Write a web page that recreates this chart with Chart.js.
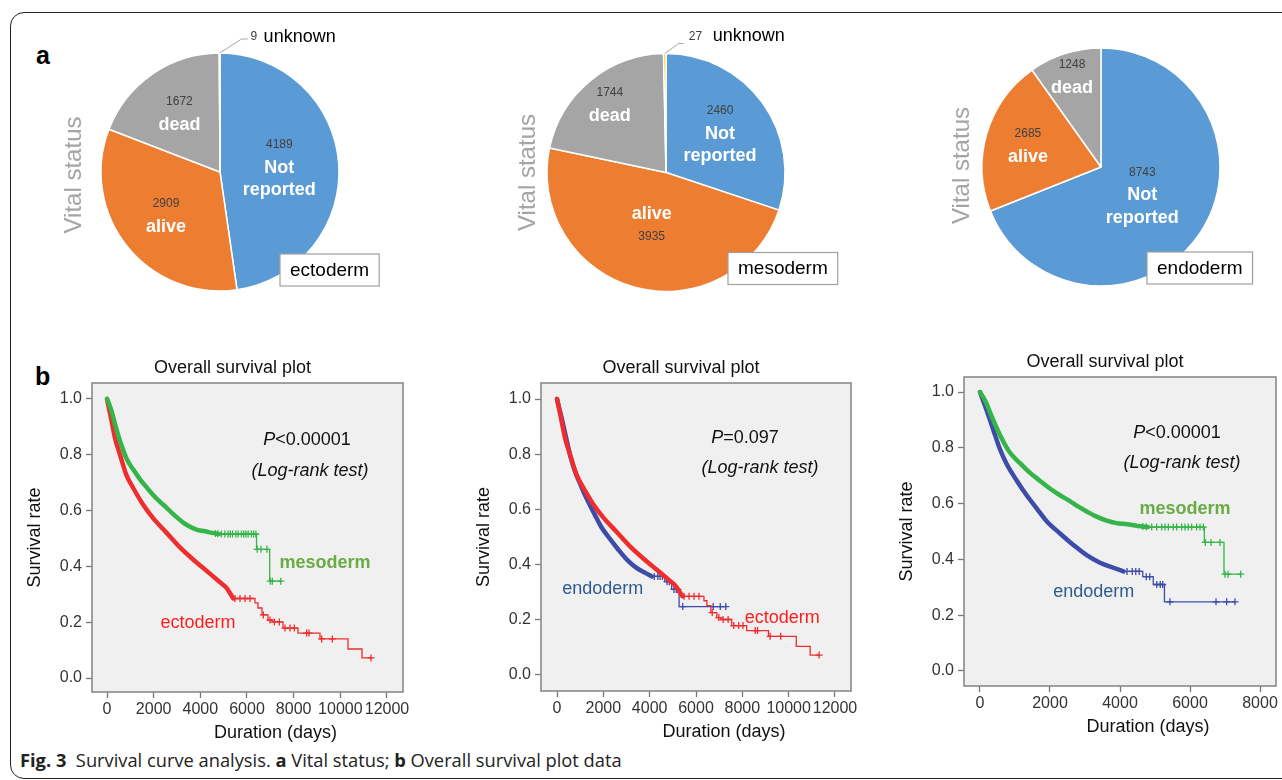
<!DOCTYPE html>
<html><head><meta charset="utf-8">
<script src="https://cdn.jsdelivr.net/npm/chart.js@4.4.1/dist/chart.umd.min.js"></script>
<style>
html,body{margin:0;padding:0;background:#fff;width:1282px;height:780px;overflow:hidden;}
#frame{position:absolute;left:10px;top:12px;width:1300px;height:767px;border:1.3px solid #222;border-radius:14px;box-sizing:border-box;}
canvas{position:absolute;}
.letter{position:absolute;font:bold 25px "Liberation Sans",Arial,sans-serif;color:#000;line-height:1;}
#caption{position:absolute;left:20px;top:751px;font:18.3px "Open Sans","Roboto",sans-serif;color:#222;white-space:nowrap;line-height:1;}
</style></head><body>
<div id="frame"></div>
<div class="letter" style="left:36px;top:43px;">a</div>
<div class="letter" style="left:35px;top:364px;">b</div>
<canvas id="pie1" width="400" height="304" style="left:20px;top:20px"></canvas>
<canvas id="pie2" width="440" height="305" style="left:445.7px;top:20px"></canvas>
<canvas id="pie3" width="360" height="294" style="left:921px;top:20px"></canvas>
<canvas id="s1"></canvas>
<canvas id="s2"></canvas>
<canvas id="s3"></canvas>
<div id="caption"><b>Fig. 3</b>&nbsp; Survival curve analysis. <b>a</b> Vital status; <b>b</b> Overall survival plot data</div>
<script>
// ---------------- DATA ----------------
const pieCategories = ['Not reported', 'alive', 'dead', 'unknown'];
const ectodermCounts = [4189, 2909, 1672, 9];
const mesodermCounts = [2460, 3935, 1744, 27];
const endodermCounts = [8743, 2685, 1248];

const yTickValues = [0, 0.2, 0.4, 0.6, 0.8, 1.0];
const xTickValuesLong = [0, 2000, 4000, 6000, 8000, 10000, 12000];
const xTickValuesShort = [0, 2000, 4000, 6000, 8000];

// ectoderm Kaplan-Meier curve
const ectoDenseDays = [0, 150, 343, 557, 843, 1129, 1557, 1986, 2557, 3129, 3700, 4271, 4843, 5129, 5300, 5414];
const ectoDenseSurv = [1.0, 0.94, 0.86, 0.80, 0.725, 0.68, 0.62, 0.572, 0.52, 0.468, 0.424, 0.384, 0.343, 0.322, 0.30, 0.285];
const ectoStepDays = [5414, 6343, 6471, 6643, 6900, 7071, 7543, 8186, 9129, 10329, 10929, 11344];
const ectoStepSurv = [0.285, 0.269, 0.251, 0.226, 0.208, 0.201, 0.179, 0.161, 0.140, 0.104, 0.072, 0.072];
const ectoCensorDays = [5486, 5700, 5914, 6129, 6700, 6986, 7171, 7386, 7629, 7843, 8029, 8557, 8657, 9200, 9657, 11314];
const ectoCensorSurv = [0.285, 0.285, 0.285, 0.285, 0.226, 0.208, 0.201, 0.201, 0.179, 0.179, 0.179, 0.161, 0.161, 0.140, 0.140, 0.072];

// mesoderm Kaplan-Meier curve
const mesoDenseDays = [0, 100, 200, 343, 557, 843, 1143, 1414, 1700, 1986, 2286, 2557, 2800, 3048, 3300, 3600, 3900, 4200, 4500, 4800];
const mesoDenseSurv = [1.0, 0.98, 0.955, 0.91, 0.85, 0.785, 0.745, 0.712, 0.683, 0.655, 0.63, 0.61, 0.59, 0.572, 0.555, 0.54, 0.53, 0.526, 0.52, 0.516];
const mesoStepDays = [4800, 6409, 6971, 7476];
const mesoStepSurv = [0.516, 0.461, 0.347, 0.347];
const mesoCensorDays = [4650, 4750, 4905, 5048, 5190, 5286, 5381, 5524, 5619, 5762, 5857, 5952, 6048, 6190, 6286, 6381, 6438, 6600, 6857, 7000, 7086, 7448];
const mesoCensorSurv = [0.518, 0.517, 0.516, 0.516, 0.516, 0.516, 0.516, 0.516, 0.516, 0.516, 0.516, 0.516, 0.516, 0.516, 0.516, 0.516, 0.461, 0.461, 0.461, 0.347, 0.347, 0.347];

// endoderm Kaplan-Meier curve
const endoDenseDays = [0, 100, 190, 381, 571, 762, 1048, 1333, 1619, 1905, 2286, 2667, 3048, 3429, 3810, 4100];
const endoDenseSurv = [1.0, 0.965, 0.935, 0.864, 0.795, 0.742, 0.683, 0.63, 0.583, 0.537, 0.493, 0.452, 0.415, 0.388, 0.370, 0.357];
const endoStepDays = [4100, 4650, 4950, 5270, 7290];
const endoStepSurv = [0.357, 0.338, 0.310, 0.248, 0.248];
const endoCensorDays = [4200, 4350, 4450, 4550, 4750, 4850, 5050, 5150, 5220, 5428, 6743, 7048, 7286];
const endoCensorSurv = [0.357, 0.357, 0.357, 0.357, 0.338, 0.338, 0.310, 0.310, 0.310, 0.248, 0.248, 0.248, 0.248];

// ---------------- STYLE ----------------
const SANS = '"Liberation Sans", Arial, sans-serif';
const pieColors = ['#5B9BD5', '#ED7D31', '#A5A5A5', '#FFC000'];
const pieNameLines = [['Not', 'reported'], ['alive'], ['dead'], ['unknown']];
const curveColors = {ecto: '#EE2E2E', meso: '#35B549', endo: '#3D4CA8'};
const labelColors = {ecto: '#FF1E1E', meso: '#69AC45', endo: '#2F5A90'};
const curves = {
  ecto: {dx: ectoDenseDays, dy: ectoDenseSurv, sx: ectoStepDays, sy: ectoStepSurv, cx: ectoCensorDays, cy: ectoCensorSurv},
  meso: {dx: mesoDenseDays, dy: mesoDenseSurv, sx: mesoStepDays, sy: mesoStepSurv, cx: mesoCensorDays, cy: mesoCensorSurv},
  endo: {dx: endoDenseDays, dy: endoDenseSurv, sx: endoStepDays, sy: endoStepSurv, cx: endoCensorDays, cy: endoCensorSurv}
};
const zip = (xs, ys) => xs.map((x, i) => ({x, y: ys[i]}));

// ---------------- PIE PLUGIN ----------------
const pieText = {
  id: 'pieText',
  afterDatasetsDraw(chart, args, o) {
    const ctx = chart.ctx;
    const meta = chart.getDatasetMeta(0);
    const values = chart.data.datasets[0].data;
    let cx0 = 0, cy0 = 0;
    meta.data.forEach((arc, i) => {
      const p = arc.getProps(['x', 'y', 'startAngle', 'endAngle', 'outerRadius'], true);
      cx0 = p.x; cy0 = p.y;
      const mid = (p.startAngle + p.endAngle) / 2;
      if (i < 3) {
        const r = p.outerRadius * o.labelRadius[i];
        const lx = p.x + Math.cos(mid) * r, ly = p.y + Math.sin(mid) * r;
        const items = [];
        const names = pieNameLines[i].map(t => ({t, kind: 'name'}));
        const num = {t: String(values[i]), kind: 'num'};
        if (o.numberBelow[i]) items.push(...names, num); else items.push(num, ...names);
        let y = 0; const ys = [];
        items.forEach((it, k) => {
          if (k > 0) y += (it.kind === 'num' || items[k - 1].kind === 'num') ? 23 : 22.5;
          ys.push(y);
        });
        const off = (ys[0] + ys[ys.length - 1]) / 2;
        ctx.save();
        ctx.textAlign = 'center'; ctx.textBaseline = 'middle';
        items.forEach((it, k) => {
          if (it.kind === 'num') { ctx.font = '12px ' + SANS; ctx.fillStyle = '#404040'; }
          else { ctx.font = 'bold 18px ' + SANS; ctx.fillStyle = '#ffffff'; }
          ctx.fillText(it.t, lx, ly + ys[k] - off);
        });
        ctx.restore();
      } else if (o.unknown) {
        const u = o.unknown;
        const ex = p.x + Math.cos(mid) * p.outerRadius, ey = p.y + Math.sin(mid) * p.outerRadius;
        ctx.save();
        ctx.strokeStyle = '#A6A6A6'; ctx.lineWidth = 1;
        ctx.beginPath(); ctx.moveTo(ex, ey); ctx.lineTo(ex + u.dx1, ey + u.dy1); ctx.lineTo(ex + u.dx2, ey + u.dy1); ctx.stroke();
        ctx.textBaseline = 'middle'; ctx.textAlign = 'left';
        ctx.font = '12px ' + SANS; ctx.fillStyle = '#404040';
        ctx.fillText(String(values[i]), ex + u.numDx, ey + u.textDy);
        ctx.font = '18px ' + SANS; ctx.fillStyle = '#000';
        ctx.fillText(pieCategories[i], ex + u.nameDx, ey + u.textDy);
        ctx.restore();
      }
    });
    ctx.save();
    ctx.translate(cx0 + o.vsDx, cy0 + o.vsDy);
    ctx.rotate(-Math.PI / 2);
    ctx.font = '24px ' + SANS; ctx.fillStyle = '#A5A5A5';
    ctx.textAlign = 'center'; ctx.textBaseline = 'middle';
    ctx.fillText('Vital status', 0, 0);
    ctx.restore();
    ctx.save();
    ctx.font = '19px ' + SANS;
    const w = ctx.measureText(o.tissue).width + 20;
    const bx = cx0 + o.boxDx, by = cy0 + o.boxDy;
    ctx.fillStyle = '#fff'; ctx.fillRect(bx, by, w, 32);
    ctx.strokeStyle = '#A0A0A0'; ctx.lineWidth = 1.2; ctx.strokeRect(bx, by, w, 32);
    ctx.fillStyle = '#000'; ctx.textAlign = 'center'; ctx.textBaseline = 'middle';
    ctx.fillText(o.tissue, bx + w / 2, by + 16.5);
    ctx.restore();
  }
};

function makePie(id, counts, opts) {
  new Chart(document.getElementById(id), {
    type: 'pie',
    data: {
      labels: pieCategories.slice(0, counts.length),
      datasets: [{data: counts, backgroundColor: pieColors.slice(0, counts.length), borderColor: '#ffffff', borderWidth: 1.5}]
    },
    options: {
      responsive: false, animation: false, radius: 119,
      layout: {padding: 0},
      plugins: {legend: {display: false}, tooltip: {enabled: false}, pieText: opts}
    },
    plugins: [pieText]
  });
}

makePie('pie1', ectodermCounts, {tissue: 'ectoderm', labelRadius: [0.5, 0.58, 0.6], numberBelow: [false, false, false],
  boxDx: 60, boxDy: 82, vsDx: -146, vsDy: 3,
  unknown: {dx1: 22, dy1: -14, dx2: 28, numDx: 31, nameDx: 44, textDy: -16}});
makePie('pie2', mesodermCounts, {tissue: 'mesoderm', labelRadius: [0.56, 0.46, 0.74], numberBelow: [false, true, false],
  boxDx: 62, boxDy: 80, vsDx: -138, vsDy: 0,
  unknown: {dx1: 14, dy1: -10, dx2: 19, numDx: 24, nameDx: 48, textDy: -17}});
makePie('pie3', endodermCounts, {tissue: 'endoderm', labelRadius: [0.42, 0.64, 0.8], numberBelow: [false, false, false],
  boxDx: 46, boxDy: 85, vsDx: -139, vsDy: -1.5, unknown: null});

// ---------------- SURVIVAL PLUGIN ----------------
const survDecor = {
  id: 'survDecor',
  beforeDatasetsDraw(chart) {
    const {ctx, chartArea: a} = chart;
    ctx.save(); ctx.fillStyle = '#F0F0F0'; ctx.fillRect(a.left, a.top, a.right - a.left, a.bottom - a.top); ctx.restore();
  },
  afterDraw(chart, args, o) {
    const {ctx, chartArea: a, scales} = chart;
    ctx.save();
    ctx.strokeStyle = '#8A8A8A'; ctx.lineWidth = 1.6;
    ctx.strokeRect(a.left, a.top, a.right - a.left, a.bottom - a.top);
    const cxm = (a.left + a.right) / 2;
    ctx.fillStyle = '#111'; ctx.textAlign = 'center'; ctx.textBaseline = 'middle';
    ctx.font = '18px ' + SANS;
    ctx.fillText('Overall survival plot', cxm - 15, a.top - 15);
    ctx.fillText('Duration (days)', cxm + 28, a.bottom + 41);
    o.texts.forEach(t => {
      const px = scales.x.getPixelForValue(t.x), py = scales.y.getPixelForValue(t.y);
      ctx.fillStyle = t.color || '#111';
      if (t.lead) {
        ctx.font = 'italic 18px ' + SANS; const w1 = ctx.measureText(t.lead).width;
        ctx.font = '18px ' + SANS; const w2 = ctx.measureText(t.text).width;
        const x0 = px - (w1 + w2) / 2;
        ctx.textAlign = 'left';
        ctx.font = 'italic 18px ' + SANS; ctx.fillText(t.lead, x0, py);
        ctx.font = '18px ' + SANS; ctx.fillText(t.text, x0 + w1, py);
        ctx.textAlign = 'center';
      } else {
        ctx.font = (t.italic ? 'italic ' : '') + (t.bold ? 'bold ' : '') + '18px ' + SANS;
        ctx.fillText(t.text, px, py);
      }
    });
    ctx.restore();
  }
};

function curveSets(key, order) {
  const c = curves[key], col = curveColors[key];
  return [
    {data: zip(c.dx, c.dy), borderColor: col, borderWidth: 4.5, pointRadius: 0, cubicInterpolationMode: 'monotone', fill: false, order, borderJoinStyle: 'round', borderCapStyle: 'round'},
    {data: zip(c.sx, c.sy), borderColor: col, borderWidth: 1.3, pointRadius: 0, stepped: 'before', fill: false, order},
    {data: zip(c.cx, c.cy), showLine: false, pointStyle: 'cross', pointRadius: 3.5, pointBorderWidth: 1.3, pointBorderColor: col, borderColor: col, order}
  ];
}

function makeSurv(id, g) {
  const cv = document.getElementById(id);
  const W = g.R - g.L + 72 + g.padR, H = g.B - g.T + 40 + 53;
  cv.width = W; cv.height = H;
  cv.style.left = (g.L - 72) + 'px'; cv.style.top = (g.T - 40) + 'px';
  const datasets = [];
  g.curves.forEach((k, i) => datasets.push(...curveSets(k, i)));
  new Chart(cv, {
    type: 'line',
    data: {datasets},
    options: {
      responsive: false, animation: false,
      layout: {padding: {left: 4, top: 40, right: g.padR, bottom: 1}},
      plugins: {legend: {display: false}, tooltip: {enabled: false}, survDecor: {texts: g.texts}},
      scales: {
        x: {
          type: 'linear', min: g.xMin, max: g.xMax,
          afterBuildTicks: s => { s.ticks = g.xTicks.map(v => ({value: v})); },
          afterFit: s => { s.height = 52; s.paddingLeft = 0; s.paddingRight = 0; },
          ticks: {font: {family: SANS, size: 16}, color: '#333', padding: 2, maxRotation: 0, autoSkip: false, callback: v => String(v)},
          grid: {drawOnChartArea: false, drawTicks: true, tickLength: 6, tickColor: '#777', tickWidth: 1.3},
          border: {display: false}
        },
        y: {
          type: 'linear', min: g.yMin, max: g.yMax,
          afterBuildTicks: s => { s.ticks = yTickValues.map(v => ({value: v})); },
          afterFit: s => { s.width = 68; s.paddingTop = 0; s.paddingBottom = 0; },
          ticks: {font: {family: SANS, size: 16}, color: '#333', padding: 4, autoSkip: false, callback: v => Number(v).toFixed(1)},
          grid: {drawOnChartArea: false, drawTicks: true, tickLength: 6, tickColor: '#777', tickWidth: 1.3},
          border: {display: false},
          title: {display: true, text: 'Survival rate', font: {family: SANS, size: 18}, color: '#111', padding: 0}
        }
      }
    },
    plugins: [survDecor]
  });
}

makeSurv('s1', {L: 92, R: 403, T: 383, B: 692, padR: 20, xMin: -643, xMax: 12686, yMin: -0.05, yMax: 1.057,
  xTicks: xTickValuesLong, curves: ['meso', 'ecto'],
  texts: [
    {lead: 'P', text: '<0.00001', x: 8571, y: 0.853},
    {text: '(Log-rank test)', italic: true, x: 8700, y: 0.742},
    {text: 'mesoderm', bold: true, color: labelColors.meso, x: 9343, y: 0.412},
    {text: 'ectoderm', color: labelColors.ecto, x: 3900, y: 0.197}
  ]});
makeSurv('s2', {L: 541, R: 851, T: 383, B: 691, padR: 20, xMin: -691, xMax: 12691, yMin: -0.058, yMax: 1.058,
  xTicks: xTickValuesLong, curves: ['ecto', 'endo'],
  texts: [
    {lead: 'P', text: '=0.097', x: 8115, y: 0.859},
    {text: '(Log-rank test)', italic: true, x: 8763, y: 0.75},
    {text: 'endoderm', color: labelColors.endo, x: 1972, y: 0.312},
    {text: 'ectoderm', color: labelColors.ecto, x: 9726, y: 0.205}
  ]});
makeSurv('s3', {L: 964, R: 1276, T: 377, B: 686, padR: 6, xMin: -457, xMax: 8457, yMin: -0.054, yMax: 1.054,
  xTicks: xTickValuesShort, curves: ['meso', 'endo'],
  texts: [
    {lead: 'P', text: '<0.00001', x: 5629, y: 0.853},
    {text: '(Log-rank test)', italic: true, x: 5771, y: 0.746},
    {text: 'mesoderm', bold: true, color: labelColors.meso, x: 5857, y: 0.581},
    {text: 'endoderm', color: labelColors.endo, x: 3249, y: 0.283}
  ]});
</script>
</body></html>
